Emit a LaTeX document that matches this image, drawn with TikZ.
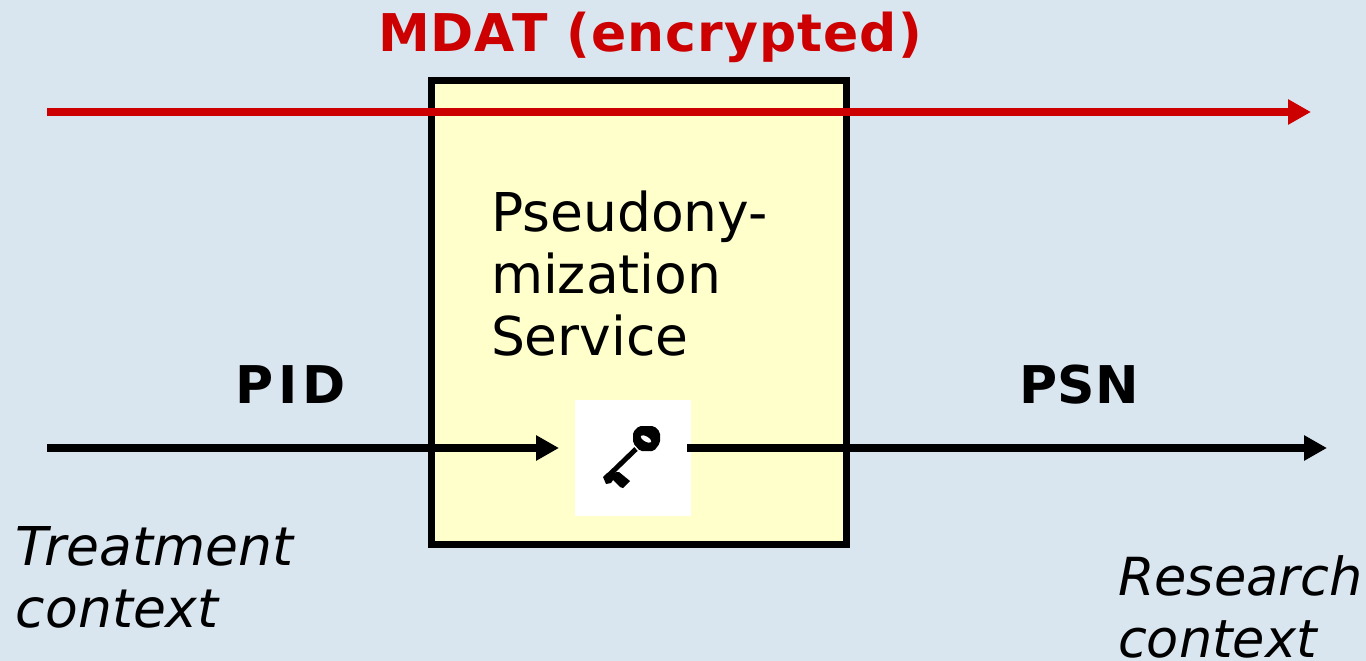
\documentclass[tikz,border=0pt]{standalone}
\usepackage{fontspec}
\setmainfont{DejaVu Sans}
\usetikzlibrary{arrows.meta}
\definecolor{bgblue}{HTML}{D9E5EF}
\definecolor{boxyellow}{HTML}{FFFFCC}
\definecolor{mdatred}{HTML}{CC0000}
\tikzset{
  flow/.style={line width=8pt,-{Triangle[length=23pt,width=24pt]}},
  headlbl/.style={inner sep=0pt,outer sep=0pt,anchor=base west,font=\fontsize{52}{52}\selectfont\bfseries\addfontfeature{LetterSpace=#1}},
  bigtxt/.style={inner sep=0pt,outer sep=0pt,anchor=base west,align=left,font=\fontsize{#1}{62}\selectfont},
  ittxt/.style={inner sep=0pt,outer sep=0pt,anchor=base west,align=left,font=\fontsize{#1}{62}\selectfont\itshape},
}
\begin{document}
\begin{tikzpicture}[x=1pt,y=-1pt]
\useasboundingbox (0,0) rectangle (1366,661);
\fill[bgblue] (0,0) rectangle (1366,661);
\node[draw=black,line width=7pt,fill=boxyellow,minimum width=415pt,minimum height=464pt,inner sep=0pt,outer sep=0pt,anchor=north west] (svc) at (431.5,80.5) {};
\node[fill=white,minimum width=116pt,minimum height=116pt,inner sep=0pt,outer sep=0pt,anchor=north west] (keybox) at (575,400) {};
% key glyph
\fill[black,rounded corners=2pt] (639,426) -- (654,426) -- (660,432) -- (660,443) -- (654,451) -- (640,451) -- (633,443) -- (633,432) -- cycle;
\fill[white,rotate around={-30:(646,439)}] (646,439) ellipse (6pt and 2.5pt);
\draw[black,line width=5pt] (636,449) -- (606,478);
\fill[black] (603,477) -- (607,473) -- (619,472) -- (630,481) -- (623,488) -- (620,487) -- (613,480) -- (611,483) -- (606,484) -- cycle;
\coordinate (redstart) at (47,112);
\coordinate (redend) at (1311,112);
\coordinate (pidstart) at (47,448);
\coordinate (pidend) at (559,448);
\coordinate (psnstart) at (687,448);
\coordinate (psnend) at (1327,448);
\draw[flow,mdatred] (redstart) -- (redend);
\draw[flow,black] (pidstart) -- (pidend);
\draw[flow,black] (psnstart) -- (psnend);
\node[headlbl=2,text=mdatred] (mdat) at (378,52) {MDAT (encrypted)};
\node[bigtxt=53.5] (svctext) at (491,355) {Pseudony-\\mization\\Service};
\node[headlbl=10] (pid) at (235,403) {PID};
\node[headlbl=1] (psn) at (1019,403) {PSN};
\node[ittxt=53.5] (treat) at (16,627) {Treatment\\context};
\node[ittxt=52.5] (res) at (1118,657) {Research\\context};
\end{tikzpicture}
\end{document}
